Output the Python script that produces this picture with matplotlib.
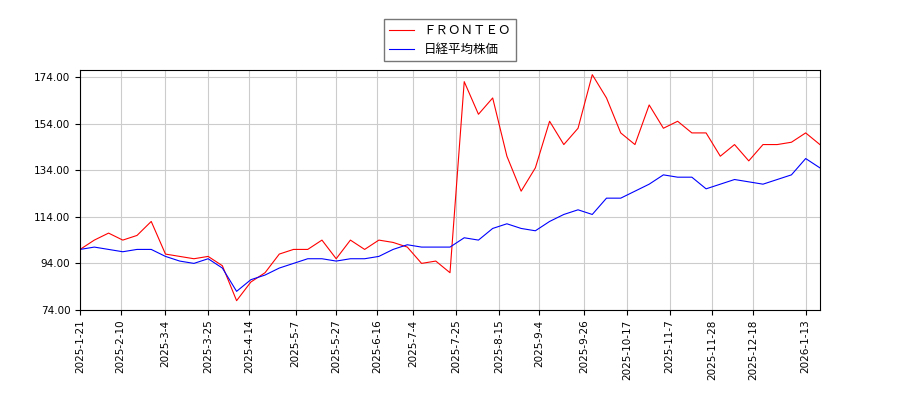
import numpy as np
import pandas as pd
import matplotlib
matplotlib.use("Agg")
import matplotlib.pyplot as plt

plt.rcParams['font.family'] = ['Noto Sans CJK JP', 'DejaVu Sans']

dates = pd.date_range("2025-01-21", periods=53, freq="7D")
fronteo = [100, 104, 107, 104, 106, 112, 98, 97, 96, 97, 93, 78, 86, 90, 98, 100, 100, 104,
           96, 104, 100, 104, 103, 101, 94, 95, 90, 172, 158, 165, 140, 125, 135, 155, 145,
           152, 175, 165, 150, 145, 162, 152, 155, 150, 150, 140, 145, 138, 145, 145, 146,
           150, 145]
nikkei = [100, 101, 100, 99, 100, 100, 97, 95, 94, 96, 92, 82, 87, 89, 92, 94, 96, 96,
          95, 96, 96, 97, 100, 102, 101, 101, 101, 105, 104, 109, 111, 109, 108, 112, 115,
          117, 115, 122, 122, 125, 128, 132, 131, 131, 126, 128, 130, 129, 128, 130, 132,
          139, 135]
tick_labels = ["2025-1-21", "2025-2-10", "2025-3-4", "2025-3-25", "2025-4-14", "2025-5-7",
               "2025-5-27", "2025-6-16", "2025-7-4", "2025-7-25", "2025-8-15", "2025-9-4",
               "2025-9-26", "2025-10-17", "2025-11-7", "2025-11-28", "2025-12-18", "2026-1-13"]
yticks = [74, 94, 114, 134, 154, 174]

fig = plt.figure(figsize=(9, 4), dpi=100)
ax = fig.add_axes([0.089, 0.225, 0.822, 0.6])
ax.plot(dates, fronteo, color="red", lw=0.8, label="ＦＲＯＮＴＥＯ")
ax.plot(dates, nikkei, color="blue", lw=0.8, label="日経平均株価")

ticks = pd.to_datetime(tick_labels)
ax.set_xticks(ticks)
ax.set_xticklabels(tick_labels, rotation=90, fontsize=7.5, family="DejaVu Sans")
ax.set_xlim(ticks[0], pd.Timestamp("2026-01-20"))
ax.set_yticks(yticks)
ax.set_yticklabels([f"{v:.2f}" for v in yticks], fontsize=7.5, family="DejaVu Sans")
ax.set_ylim(74, 177)
ax.grid(True, color="#cccccc", lw=0.8)
ax.legend(loc="lower center", bbox_to_anchor=(0.5, 1.01), fontsize=9,
          fancybox=False, edgecolor="#555555", borderpad=0.4)

fig.savefig("out.png")
